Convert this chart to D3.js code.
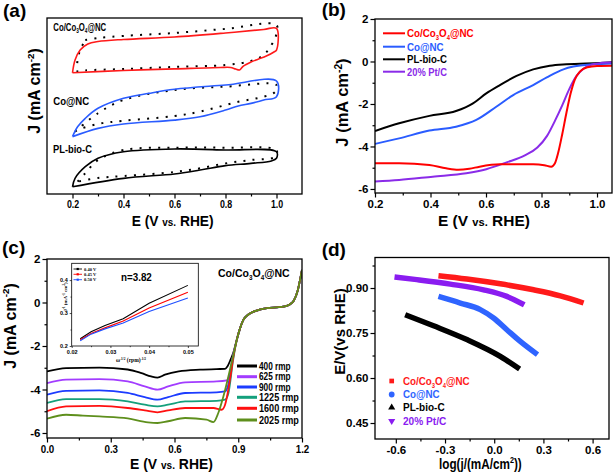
<!DOCTYPE html>
<html><head><meta charset="utf-8">
<script src="https://cdn.jsdelivr.net/npm/d3@7"></script>
<style>
html,body{margin:0;padding:0;background:#fff;}
svg{display:block;}
</style></head><body>
<svg id="c" width="614" height="476"></svg>
<script>
// ---------------- DATA ----------------
// (a) CV curves, [E (V vs RHE), J (arbitrary units, stacked)]
const cvCoCo3O4Solid = [[0.2,6.89],[0.21,7.61],[0.23,8.18],[0.26,8.52],[0.3,8.66],[0.4,8.78],[0.6,8.92],[0.8,9.15],[0.95,9.35],[1.0,9.41],[1.0,8.18],[0.99,8.07],[0.96,7.84],[0.93,7.67],[0.9,7.5],[0.87,7.27],[0.855,7.05],[0.84,7.10],[0.82,7.19],[0.78,7.19],[0.6,7.11],[0.4,7.02],[0.2,6.89]];
const cvCoCo3O4Dot = [[0.25,8.75],[0.3,8.86],[0.4,8.98],[0.6,9.15],[0.8,9.38],[1.0,9.6],[0.995,8.86],[0.98,8.47],[0.95,7.9],[0.9,7.56],[0.8,7.33],[0.6,7.22],[0.4,7.1],[0.25,7.02],[0.22,6.96],[0.22,7.61],[0.23,8.18],[0.25,8.75]];
const cvCoNCSolid = [[0.2,3.26],[0.22,3.82],[0.25,4.30],[0.3,4.87],[0.4,5.44],[0.5,5.72],[0.6,5.95],[0.8,6.19],[1.0,6.42],[1.0,5.53],[0.95,5.34],[0.9,5.15],[0.85,5.0],[0.8,4.77],[0.7,4.39],[0.6,4.20],[0.4,3.98],[0.3,3.73],[0.2,3.26]];
const cvCoNCDot = [[0.21,3.54],[0.3,4.59],[0.4,5.34],[0.6,5.91],[0.8,6.10],[1.0,6.19],[0.995,5.81],[0.95,5.53],[0.85,5.24],[0.7,4.68],[0.6,4.43],[0.4,4.16],[0.3,3.98],[0.22,3.64],[0.21,3.54]];
const cvPLSolid = [[0.2,0.41],[0.21,0.89],[0.25,1.55],[0.3,2.03],[0.4,2.40],[0.6,2.56],[0.8,2.50],[1.0,2.40],[1.0,2.03],[0.98,1.88],[0.9,1.74],[0.8,1.61],[0.7,1.36],[0.6,1.14],[0.4,0.89],[0.2,0.41]];
const cvPLDot = [[0.22,0.70],[0.25,1.18],[0.3,1.93],[0.4,2.5],[0.6,2.63],[0.8,2.63],[1.0,2.5],[0.995,2.12],[0.9,1.93],[0.8,1.74],[0.7,1.46],[0.6,1.25],[0.4,1.02],[0.3,0.91],[0.22,0.70]];
const cvLabels = ["Co/Co3O4@NC","Co@NC","PL-bio-C"];

// (b) LSV at 1600 rpm, [E, J (mA cm-2)]
const lsvSeries = ["Co/Co3O4@NC","Co@NC","PL-bio-C","20% Pt/C"];
const lsvCoCo3O4 = [[0.2,-4.79],[0.287,-4.79],[0.396,-4.87],[0.456,-5.03],[0.5,-5.1],[0.54,-5.05],[0.577,-4.95],[0.65,-4.84],[0.77,-4.84],[0.81,-4.88],[0.835,-4.95],[0.848,-4.8],[0.86,-4.3],[0.875,-3.4],[0.89,-2.4],[0.905,-1.5],[0.92,-0.85],[0.94,-0.45],[0.965,-0.27],[1.0,-0.21],[1.054,-0.2]];
const lsvCoNC = [[0.2,-3.88],[0.287,-3.62],[0.396,-3.25],[0.492,-3.07],[0.565,-2.75],[0.637,-2.13],[0.698,-1.58],[0.77,-1.11],[0.819,-0.75],[0.879,-0.37],[0.915,-0.24],[0.988,-0.13],[1.054,-0.09]];
const lsvPL = [[0.2,-3.27],[0.287,-2.91],[0.396,-2.56],[0.492,-2.33],[0.553,-1.97],[0.601,-1.50],[0.65,-1.11],[0.71,-0.68],[0.77,-0.37],[0.83,-0.20],[0.89,-0.13],[1.01,-0.07],[1.054,-0.04]];
const lsvPtC = [[0.2,-5.65],[0.287,-5.58],[0.408,-5.42],[0.529,-5.26],[0.601,-5.07],[0.674,-4.75],[0.74,-4.42],[0.785,-4.05],[0.82,-3.5],[0.85,-2.75],[0.875,-2.05],[0.9,-1.3],[0.925,-0.7],[0.95,-0.35],[0.98,-0.15],[1.01,-0.08],[1.054,-0.04]];

// (c) LSV at rotation rates, [E, J]
const rpmLabels = ["400 rmp","625 rmp","900 rmp","1225 rmp","1600 rmp","2025 rmp"];
const lsvTail = [[0.893,-1.72],[0.908,-1.2],[0.924,-0.80],[0.948,-0.55],[0.972,-0.42],[1.0,-0.33],[1.035,-0.26],[1.08,-0.22],[1.113,-0.19],[1.14,-0.1],[1.161,0.08],[1.18,0.55],[1.192,1.1],[1.2,1.5]];
const rpm400 = [[0,-3.17],[0.09,-3.02],[0.247,-2.99],[0.38,-3.08],[0.445,-3.25],[0.49,-3.40],[0.52,-3.45],[0.555,-3.32],[0.62,-3.17],[0.72,-3.09],[0.798,-3.06],[0.838,-3.05],[0.849,-2.94],[0.865,-2.6],[0.877,-2.3]];
const rpm625 = [[0,-3.71],[0.09,-3.55],[0.247,-3.52],[0.38,-3.63],[0.46,-3.86],[0.52,-4.01],[0.57,-3.86],[0.65,-3.67],[0.798,-3.63],[0.846,-3.58],[0.861,-3.25],[0.872,-2.6]];
const rpm900 = [[0,-4.24],[0.09,-4.06],[0.247,-4.04],[0.38,-4.16],[0.46,-4.35],[0.52,-4.47],[0.57,-4.35],[0.65,-4.16],[0.798,-4.13],[0.838,-4.09],[0.854,-3.75],[0.872,-2.7]];
const rpm1225 = [[0,-4.62],[0.09,-4.44],[0.247,-4.44],[0.38,-4.55],[0.46,-4.70],[0.52,-4.78],[0.57,-4.70],[0.65,-4.55],[0.798,-4.52],[0.838,-4.47],[0.854,-4.16],[0.875,-2.7]];
const rpm1600 = [[0,-5.0],[0.09,-4.78],[0.247,-4.75],[0.38,-4.85],[0.46,-4.96],[0.52,-5.05],[0.57,-4.96],[0.65,-4.85],[0.783,-4.85],[0.822,-4.93],[0.838,-4.70],[0.861,-3.55],[0.877,-2.5]];
const rpm2025 = [[0,-5.34],[0.09,-5.16],[0.169,-5.20],[0.247,-5.24],[0.38,-5.33],[0.475,-5.51],[0.52,-5.54],[0.57,-5.46],[0.65,-5.31],[0.751,-5.39],[0.783,-5.50],[0.806,-5.08],[0.830,-4.32],[0.861,-3.09],[0.877,-2.4]];

// (c) inset: Koutecky-Levich, x = w^-1/2, y = J^-1
const klX = [0.0222,0.025,0.0286,0.0333,0.04,0.05];
const kl040 = [0.222,0.243,0.262,0.283,0.33,0.384];
const kl045 = [0.219,0.238,0.255,0.276,0.315,0.363];
const kl050 = [0.216,0.236,0.252,0.270,0.305,0.346];
const klLabels = ["0.40 V","0.45 V","0.50 V"];

// (d) Tafel, [log j, E]
const tafelSeries = ["Co/Co3O4@NC","Co@NC","PL-bio-C","20% Pt/C"];
const tafelCoCo3O4 = [[-0.34,0.941],[-0.167,0.93],[0.037,0.914],[0.24,0.894],[0.403,0.874],[0.545,0.85]];
const tafelCoNC = [[-0.34,0.872],[-0.207,0.85],[-0.085,0.828],[-0.004,0.80],[0.077,0.761],[0.159,0.722],[0.264,0.678]];
const tafelPL = [[-0.543,0.811],[-0.37,0.774],[-0.167,0.728],[0.037,0.672],[0.155,0.63]];
const tafelPtC = [[-0.608,0.937],[-0.472,0.928],[-0.268,0.913],[-0.065,0.894],[0.077,0.872],[0.183,0.844]];

// tick values
const ticksAx = [0.2,0.4,0.6,0.8,1.0], ticksAxMinor = [0.3,0.5,0.7,0.9];
const ticksBx = [0.2,0.4,0.6,0.8,1.0], ticksBxMinor = [0.3,0.5,0.7,0.9];
const ticksBy = [-6,-4,-2,0,2], ticksByMinor = [-5,-3,-1,1];
const ticksCx = [0,0.3,0.6,0.9,1.2], ticksCxMinor = [0.15,0.45,0.75,1.05];
const ticksCy = [-6,-4,-2,0,2], ticksCyMinor = [-5,-3,-1,1];
const ticksDx = [-0.6,-0.3,0,0.3,0.6], ticksDxMinor = [-0.45,-0.15,0.15,0.45];
const ticksDy = [0.45,0.60,0.75,0.90], ticksDyMinor = [0.525,0.675,0.825,0.975];
const ticksIx = [0.02,0.03,0.04,0.05], ticksIxMinor = [0.025,0.035,0.045];
const ticksIy = [0.2,0.3,0.4], ticksIyMinor = [0.25,0.35];

// ---------------- DRAWING ----------------
const FONT = '"Liberation Sans", Arial, Helvetica, sans-serif';
const svg = d3.select("#c");
const defs = svg.append("defs");

function panel(p){
  const x = d3.scaleLinear().domain(p.xd).range([p.l,p.r]);
  const y = d3.scaleLinear().domain(p.yd).range([p.b,p.t]);
  const g = svg.append("g");
  defs.append("clipPath").attr("id","clip"+p.name).append("rect")
    .attr("x",p.l).attr("y",p.t).attr("width",p.r-p.l).attr("height",p.b-p.t);
  if(p.bg) g.append("rect").attr("x",p.l).attr("y",p.t).attr("width",p.r-p.l).attr("height",p.b-p.t).attr("fill","#fff");
  const plot = g.append("g").attr("clip-path",`url(#clip${p.name})`);
  const axes = g.append("g");
  return Object.assign({x,y,g,plot,axes},p);
}
function frame(P,sw){
  P.g.append("rect").attr("x",P.l).attr("y",P.t).attr("width",P.r-P.l).attr("height",P.b-P.t)
    .attr("fill","none").attr("stroke","#000").attr("stroke-width",sw||1.3);
}
function addAxis(P,orient,majors,minors,fmt,fs,sx,tsMaj,tsMin,sw){
  const isX = orient==="bottom";
  const mk = ()=> isX ? d3.axisBottom(P.x) : d3.axisLeft(P.y);
  const tr = isX ? `translate(0,${P.b})` : `translate(${P.l},0)`;
  if(minors){
    P.axes.append("g").attr("transform",tr).call(mk().tickValues(minors).tickSize(tsMin||2.5).tickFormat(""));
  }
  const ga = P.axes.append("g").attr("transform",tr)
    .call(mk().tickValues(majors).tickSize(tsMaj||4.5).tickPadding(2).tickFormat(fmt||""));
  P.axes.selectAll(".domain").remove();
  P.axes.selectAll(".tick line").attr("stroke","#000").attr("stroke-width",sw||1.2);
  ga.selectAll("text").attr("font-size",fs).attr("font-weight","bold")
    .attr("font-family",FONT).attr("fill","#000");
  if(isX && sx) ga.selectAll("text").attr("transform",`scale(${sx},1)`);
  return ga;
}
const F = "Co/Co3O4@NC";
function specOf(s){
  if(s==="Co/Co3O4@NC") return [["Co/Co",""],["3","sub"],["O",""],["4","sub"],["@NC",""]];
  return [[s,""]];
}
function label(g,x,y,spec,fs,color,w,anchor,family){
  const t = g.append("text").attr("x",x).attr("y",y).attr("font-size",fs)
    .attr("fill",color||"#000").attr("font-weight","bold").attr("font-family",family||FONT);
  if(anchor) t.attr("text-anchor",anchor);
  let shift = 0;
  (typeof spec==="string"?specOf(spec):spec).forEach(([s,k])=>{
    let target=0,size=fs;
    if(k==="sub"){target=fs*0.22;size=fs*0.6;}
    else if(k==="sup"){target=-fs*0.38;size=fs*0.62;}
    else if(k==="small"){size=fs*0.72;}
    t.append("tspan").text(s).attr("font-size",size).attr("dy",target-shift);
    shift = target;
  });
  if(w){
    const bb = t.node().getBBox();
    const s = w/bb.width;
    t.attr("transform",`translate(${bb.x},0) scale(${s},1) translate(${-bb.x},0)`);
  }
  return t;
}
function vlabel(g,cx,cy,spec,fs){
  const gg = g.append("g").attr("transform",`translate(${cx},${cy}) rotate(-90)`);
  return label(gg,0,0,spec,fs,"#000",null,"middle");
}
const Jtitle = [["J (mA cm",""],["-2","sup"],[")",""]];
const Etitle = [["E (V ",""],["vs.","small"],[" RHE)",""]];

// ===== (a) =====
const A = panel({name:"a",l:47,r:302,t:18,b:194,xd:[0.1,1.1],yd:[0,10]});
const loop = d3.line().x(d=>A.x(d[0])).y(d=>A.y(d[1])).curve(d3.curveCatmullRom.alpha(0.5));
[cvCoCo3O4Dot,cvCoNCDot,cvPLDot].forEach(d=>{
  A.plot.append("path").attr("d",loop(d)).attr("fill","none").attr("stroke","#000")
    .attr("stroke-width",2).attr("stroke-dasharray","2,7.2");
});
[[cvCoCo3O4Solid,"#ff1a1a"],[cvCoNCSolid,"#2a5cff"],[cvPLSolid,"#000"]].forEach(([d,c])=>{
  A.plot.append("path").attr("d",loop(d)).attr("fill","none").attr("stroke",c).attr("stroke-width",1.6);
});
addAxis(A,"bottom",ticksAx,ticksAxMinor,d=>d.toFixed(1),11,0.8);
frame(A);
label(svg,53.3,31,cvLabels[0],11,"#000",53);
label(svg,53.3,105.5,cvLabels[1],11,"#000",36);
label(svg,53,153,cvLabels[2],11,"#000",39);
label(svg,3,17,"(a)",19);
label(svg,131.7,226,Etitle,15,"#000",82);
vlabel(svg,40,91,Jtitle,16);

// ===== (b) =====
const B = panel({name:"b",l:375,r:612,t:19,b:193,xd:[0.2,1.054],yd:[-6.19,2]});
const lineB = d3.line().x(d=>B.x(d[0])).y(d=>B.y(d[1])).curve(d3.curveMonotoneX);
const colB = ["#ff0000","#2a5cff","#000000","#8a2be8"];
const dataB = [lsvCoCo3O4,lsvCoNC,lsvPL,lsvPtC];
[2,1,3,0].forEach(i=>{
  B.plot.append("path").attr("d",lineB(dataB[i])).attr("fill","none").attr("stroke",colB[i]).attr("stroke-width",2);
});
addAxis(B,"bottom",ticksBx,ticksBxMinor,d=>d.toFixed(1),11.5);
addAxis(B,"left",ticksBy,ticksByMinor,d=>String(d),11.5);
frame(B);
const legBy = [33.3,46.7,59.3,71.7], legBw = [66.7,36.7,40,40];
lsvSeries.forEach((s,i)=>{
  svg.append("line").attr("x1",383).attr("x2",405).attr("y1",legBy[i]).attr("y2",legBy[i])
    .attr("stroke",colB[i]).attr("stroke-width",2);
  label(svg,407,legBy[i]+4,s,11.5,colB[i],legBw[i]);
});
label(svg,321.7,15.5,"(b)",19);
label(svg,438,226,Etitle,15,"#000",92);
vlabel(svg,348,102.5,Jtitle,16.5);

// ===== (c) =====
const C = panel({name:"c",l:47,r:302,t:259,b:438,xd:[0,1.2],yd:[-6.23,2]});
const lineC = d3.line().x(d=>C.x(d[0])).y(d=>C.y(d[1])).curve(d3.curveMonotoneX);
const colC = ["#000000","#a23cff","#1c3cff","#14a07c","#ff1010","#5e8f1c"];
const dataC = [rpm400,rpm625,rpm900,rpm1225,rpm1600,rpm2025];
dataC.forEach((d,i)=>{
  C.plot.append("path").attr("d",lineC(d.concat(lsvTail))).attr("fill","none").attr("stroke",colC[i]).attr("stroke-width",1.8);
});
addAxis(C,"bottom",ticksCx,ticksCxMinor,d=>d.toFixed(1),11.5,0.85);
addAxis(C,"left",ticksCy,ticksCyMinor,d=>String(d),11.5);
frame(C);
const legCy = [366,376.7,387,397.3,408.3,420], legCw = [31.7,31.7,31.7,40,40,40];
rpmLabels.forEach((s,i)=>{
  svg.append("line").attr("x1",237).attr("x2",257).attr("y1",legCy[i]).attr("y2",legCy[i])
    .attr("stroke",colC[i]).attr("stroke-width",3);
  label(svg,259,legCy[i]+3.6,s,10,"#000",legCw[i]);
});
label(svg,218,277,F,11.5,"#000",71.7);
label(svg,2,254,"(c)",19);
label(svg,130,469,Etitle,15,"#000",83);
vlabel(svg,15.5,326,Jtitle,16);

// inset
const I = panel({name:"i",l:71.7,r:198.3,t:263.3,b:346,xd:[0.02,0.0527],yd:[0.2,0.451],bg:true});
const lineI = d3.line().x(d=>I.x(d[0])).y(d=>I.y(d[1]));
const colI = ["#000000","#ff0000","#1f4fff"];
[kl040,kl045,kl050].forEach((ys,i)=>{
  I.plot.append("path").attr("d",lineI(klX.map((x,j)=>[x,ys[j]]))).attr("fill","none").attr("stroke",colI[i]).attr("stroke-width",1.1);
});
addAxis(I,"bottom",ticksIx,ticksIxMinor,d=>d.toFixed(2),5.5,null,2,1.2,0.7);
addAxis(I,"left",ticksIy,ticksIyMinor,d=>d.toFixed(1),5.5,null,2,1.2,0.7);
frame(I,0.8);
const legIy = [269,274.3,279.7];
klLabels.forEach((s,i)=>{
  svg.append("line").attr("x1",73.5).attr("x2",82).attr("y1",legIy[i]).attr("y2",legIy[i]).attr("stroke",colI[i]).attr("stroke-width",0.9);
  svg.append("rect").attr("x",76.6).attr("y",legIy[i]-1.1).attr("width",2.2).attr("height",2.2).attr("fill",colI[i]);
  label(svg,84,legIy[i]+1.6,s,4.5,"#000",null,null,'"Liberation Serif", serif');
});
label(svg,121,281,"n=3.82",10.5,"#000",31);
label(svg,131,362,[["ω",""],["-1/2","sup"],[" (rpm)",""],["-1/2","sup"]],5.5,"#000",null,"middle",'"Liberation Serif", serif');
{
  const gg = svg.append("g").attr("transform","translate(66.5,297) rotate(-90)");
  label(gg,0,0,[["J",""],["-1","sup"],[" (mA",""],["-1","sup"],[" cm",""],["2","sup"],[")",""]],5,"#000",null,"middle",'"Liberation Serif", serif');
}

// ===== (d) =====
const D = panel({name:"d",l:375,r:609,t:257.5,b:439,xd:[-0.727,0.70],yd:[0.3967,1.0017]});
const lineD = d3.line().x(d=>D.x(d[0])).y(d=>D.y(d[1])).curve(d3.curveMonotoneX);
const colD = ["#ff1a1a","#2f64ff","#000000","#8a1cf0"];
const dataD = [tafelCoCo3O4,tafelCoNC,tafelPL,tafelPtC];
dataD.forEach((d,i)=>{
  D.plot.append("path").attr("d",lineD(d)).attr("fill","none").attr("stroke",colD[i]).attr("stroke-width",5.5);
});
addAxis(D,"bottom",ticksDx,ticksDxMinor,d=>d.toFixed(1),11.5);
addAxis(D,"left",ticksDy,ticksDyMinor,d=>d.toFixed(2),11.5);
frame(D);
const legDy = [381,394.5,407.5,421], legDw = [66.7,36.7,41.7,43.3];
const sym = [d3.symbolSquare,d3.symbolCircle,d3.symbolTriangle,d3.symbolTriangle];
tafelSeries.forEach((s,i)=>{
  svg.append("path").attr("d",d3.symbol(sym[i],i===1?26:22)())
    .attr("transform",`translate(391.7,${legDy[i]})${i===3?" rotate(180)":""}`).attr("fill",colD[i]);
  label(svg,403,legDy[i]+4,s,11.5,colD[i],legDw[i]);
});
label(svg,321.7,256,"(d)",19);
label(svg,439,469,[["log(j/(mA/cm",""],["2","sup"],["))",""]],14.5,"#000",83);
vlabel(svg,345,331.5,"E/V(vs RHE)",15);
</script>
</body></html>
